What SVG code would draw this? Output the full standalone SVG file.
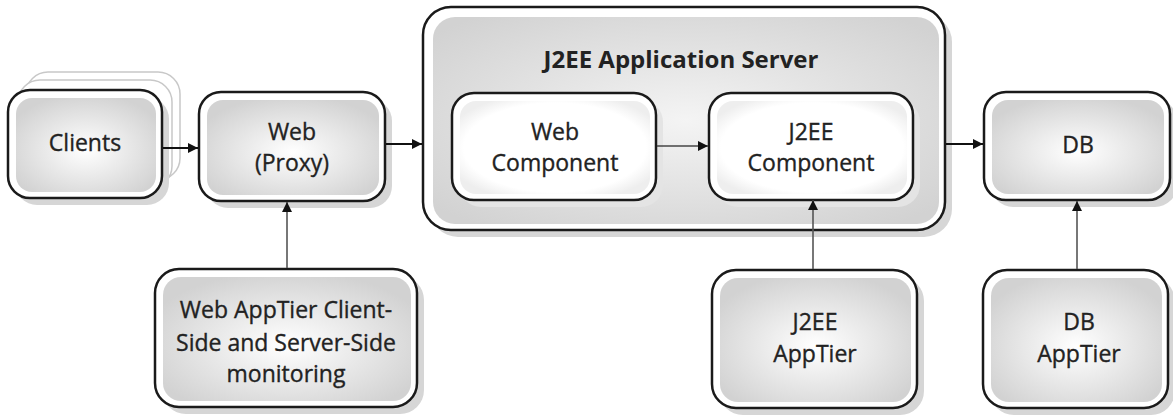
<svg xmlns="http://www.w3.org/2000/svg" width="1173" height="416" viewBox="0 0 1173 416">
<defs>
<radialGradient id="g" cx="0.5" cy="0.55" r="0.6">
<stop offset="0" stop-color="#ffffff"/>
<stop offset="1" stop-color="#d2d2d2"/>
</radialGradient>
<radialGradient id="gs" cx="0.5" cy="0.5" r="0.65">
<stop offset="0" stop-color="#f4f4f4"/>
<stop offset="1" stop-color="#d2d2d2"/>
</radialGradient>
<radialGradient id="gw" cx="0.5" cy="0.5" r="0.6">
<stop offset="0" stop-color="#ffffff"/>
<stop offset="0.8" stop-color="#ffffff"/>
<stop offset="1" stop-color="#eeeeee"/>
</radialGradient>
<marker id="ah" viewBox="0 0 10 10" refX="10" refY="5" markerWidth="12" markerHeight="10" markerUnits="userSpaceOnUse" orient="auto">
<path d="M0,0 L10,5 L0,10 Z" fill="#111"/>
</marker>
</defs>
<style>
.sh{fill:#d6d6d6}
.ob{fill:#fff;stroke:#1a1a1a;stroke-width:2.5}
.in{fill:url(#g)}
.ghost{fill:#fff;stroke:#c8c8c8;stroke-width:1.5}
text{font-family:"Open Sans","Liberation Sans",sans-serif;font-size:23px;fill:#222;stroke:#222;stroke-width:0.35;text-anchor:middle}
.t{font-weight:bold;font-size:24px;stroke:none}
.c{fill:none;stroke:#111;stroke-width:2}
.v{fill:none;stroke:#555;stroke-width:1.6}
</style>

<g id="clients">
<rect class="ghost" x="26" y="72" width="154" height="108" rx="22"/>
<rect class="ghost" x="18" y="80" width="154" height="108" rx="22"/>
<rect class="sh" x="15" y="97" width="154" height="108" rx="22"/>
<rect class="ob" x="8" y="90" width="154" height="108" rx="22"/>
<rect class="in" x="16" y="98" width="140" height="94" rx="16"/>
<text x="85" y="151">Clients</text>
</g>

<g id="web-proxy">
<rect class="sh" x="206" y="99" width="186" height="109" rx="22"/>
<rect class="ob" x="199" y="92" width="186" height="109" rx="22"/>
<rect class="in" x="207" y="100" width="172" height="95" rx="16"/>
<text x="292" y="140">Web</text>
<text x="292" y="171">(Proxy)</text>
</g>

<g id="app-server">
<rect class="sh" x="430" y="14" width="522" height="223" rx="28"/>
<rect class="ob" x="423" y="7" width="522" height="223" rx="28"/>
<rect x="433" y="17" width="506" height="207" rx="22" fill="url(#gs)"/>
<text class="t" x="681" y="68">J2EE Application Server</text>
</g>

<g id="web-component">
<rect x="459" y="100" width="204" height="107" rx="22" fill="#e4e4e4"/>
<rect class="ob" x="452" y="93" width="204" height="107" rx="22"/>
<rect x="460" y="101" width="190" height="93" rx="16" fill="url(#gw)"/>
<text x="555" y="140">Web</text>
<text x="555" y="171">Component</text>
</g>

<g id="j2ee-component">
<rect x="716" y="100" width="204" height="107" rx="22" fill="#e4e4e4"/>
<rect class="ob" x="709" y="93" width="204" height="107" rx="22"/>
<rect x="717" y="101" width="190" height="93" rx="16" fill="url(#gw)"/>
<text x="811" y="140">J2EE</text>
<text x="811" y="171">Component</text>
</g>

<g id="db">
<rect class="sh" x="991" y="99" width="186" height="108" rx="22"/>
<rect class="ob" x="984" y="92" width="186" height="108" rx="22"/>
<rect class="in" x="992" y="100" width="172" height="94" rx="16"/>
<text x="1078" y="153">DB</text>
</g>

<g id="web-apptier">
<rect class="sh" x="162" y="276" width="262" height="138" rx="24"/>
<rect class="ob" x="155" y="269" width="262" height="138" rx="24"/>
<rect class="in" x="163" y="277" width="248" height="124" rx="18"/>
<text x="286" y="318">Web AppTier Client-</text>
<text x="286" y="351">Side and Server-Side</text>
<text x="286" y="382">monitoring</text>
</g>

<g id="j2ee-apptier">
<rect class="sh" x="719" y="277" width="205" height="138" rx="24"/>
<rect class="ob" x="712" y="270" width="205" height="138" rx="24"/>
<rect class="in" x="720" y="278" width="191" height="124" rx="18"/>
<text x="815" y="330">J2EE</text>
<text x="815" y="362">AppTier</text>
</g>

<g id="db-apptier">
<rect class="sh" x="990" y="277" width="185" height="138" rx="24"/>
<rect class="ob" x="983" y="270" width="185" height="138" rx="24"/>
<rect class="in" x="991" y="278" width="171" height="124" rx="18"/>
<text x="1079" y="330">DB</text>
<text x="1079" y="362">AppTier</text>
</g>

<g id="connectors">
<line class="c" x1="163" y1="148" x2="198" y2="148" marker-end="url(#ah)"/>
<line class="c" x1="386" y1="144" x2="422" y2="144" marker-end="url(#ah)"/>
<line class="c" x1="657" y1="146" x2="708" y2="146" marker-end="url(#ah)" style="stroke-width:1.6;stroke:#444"/>
<line class="c" x1="946" y1="144" x2="983" y2="144" marker-end="url(#ah)"/>
<line class="v" x1="287" y1="268" x2="287" y2="202" marker-end="url(#ah)"/>
<line class="v" x1="813" y1="269" x2="813" y2="200" marker-end="url(#ah)"/>
<line class="v" x1="1077" y1="269" x2="1077" y2="201" marker-end="url(#ah)"/>
</g>
</svg>
